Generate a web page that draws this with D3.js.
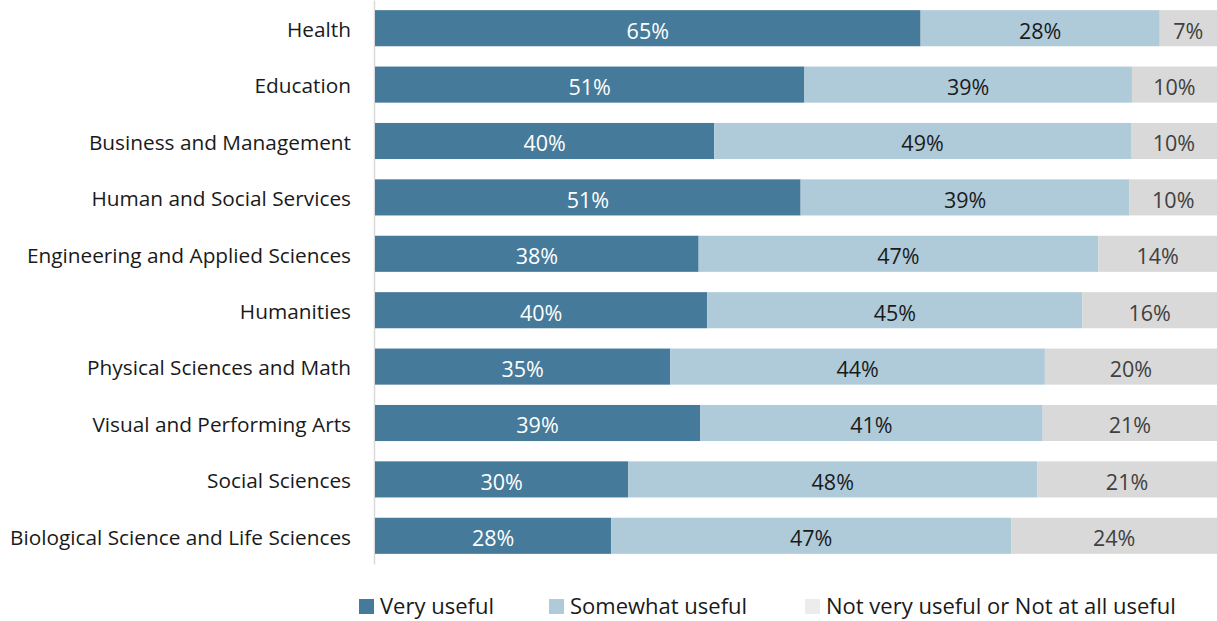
<!DOCTYPE html>
<html><head><meta charset="utf-8">
<script src="https://cdn.jsdelivr.net/npm/d3@7"></script>
<style>body{margin:0;background:#fff;} svg{display:block;font-family:"Open Sans",sans-serif;}</style>
</head><body>
<svg id="chart" width="1217" height="621"></svg>
<script>
const categories = ["Health","Education","Business and Management","Human and Social Services","Engineering and Applied Sciences","Humanities","Physical Sciences and Math","Visual and Performing Arts","Social Sciences","Biological Science and Life Sciences"];
const seriesNames = ["Very useful","Somewhat useful","Not very useful or Not at all useful"];
const veryUseful     = [64.8, 51.0, 40.2, 50.6, 38.4, 39.5, 35.0, 38.6, 30.0, 28.0];
const somewhatUseful = [28.4, 38.9, 49.4, 39.1, 47.4, 44.6, 44.4, 40.7, 48.4, 47.4];
const notUseful      = [ 6.8, 10.1, 10.2, 10.4, 14.1, 16.0, 20.4, 20.7, 21.3, 24.4];
const colors = ["#467a9a","#afcbda","#d9d9d9"];
const legendColors = ["#467a9a","#afcbda","#ececec"];
const labelColors = ["#ffffff","#1a1a1a","#404040"];

const rows = categories.map((c,i)=>({cat:c, s0:veryUseful[i], s1:somewhatUseful[i], s2:notUseful[i]}));
const keys = ["s0","s1","s2"];
const stack = d3.stack().keys(keys).offset(d3.stackOffsetExpand);
const series = stack(rows);

const svg = d3.select("#chart");
const x = d3.scaleLinear().domain([0,1]).range([375,1217]);
const y = d3.scaleBand().domain(categories).range([0,564]).paddingInner(0.36).paddingOuter(0.18);

svg.append("g").attr("transform","translate(374,0)")
  .call(d3.axisLeft(y).tickSize(0).tickPadding(23))
  .call(g=>g.select(".domain").attr("stroke","#d9d9d9").attr("stroke-width",1.5))
  .call(g=>g.selectAll("text").attr("font-size","20.8px").attr("dy","0.42em").attr("fill","#1a1a1a").attr("font-family","'Open Sans',sans-serif"));

series.forEach((s,si)=>{
  const g = svg.append("g");
  g.selectAll("rect").data(s).enter().append("rect")
    .attr("x",d=>x(d[0])).attr("width",d=>x(d[1])-x(d[0]))
    .attr("y",d=>y(d.data.cat)).attr("height",y.bandwidth())
    .attr("fill",colors[si]);
  g.selectAll("text").data(s).enter().append("text")
    .attr("x",d=>(x(d[0])+x(d[1]))/2)
    .attr("y",d=>y(d.data.cat)+y.bandwidth()/2)
    .attr("dy","0.48em").attr("text-anchor","middle")
    .attr("font-size","21.5px").attr("fill",labelColors[si])
    .text(d=>Math.round(d.data[keys[si]])+"%");
});

const legendX = [359, 549, 805];
const lg = svg.append("g");
seriesNames.forEach((n,i)=>{
  lg.append("rect").attr("x",legendX[i]).attr("y",599).attr("width",15).attr("height",15).attr("fill",legendColors[i]);
  lg.append("text").attr("x",legendX[i]+21).attr("y",606.5).attr("dy","0.36em")
    .attr("font-size","22px").attr("fill","#1a1a1a").text(n);
});
</script>
</body></html>
